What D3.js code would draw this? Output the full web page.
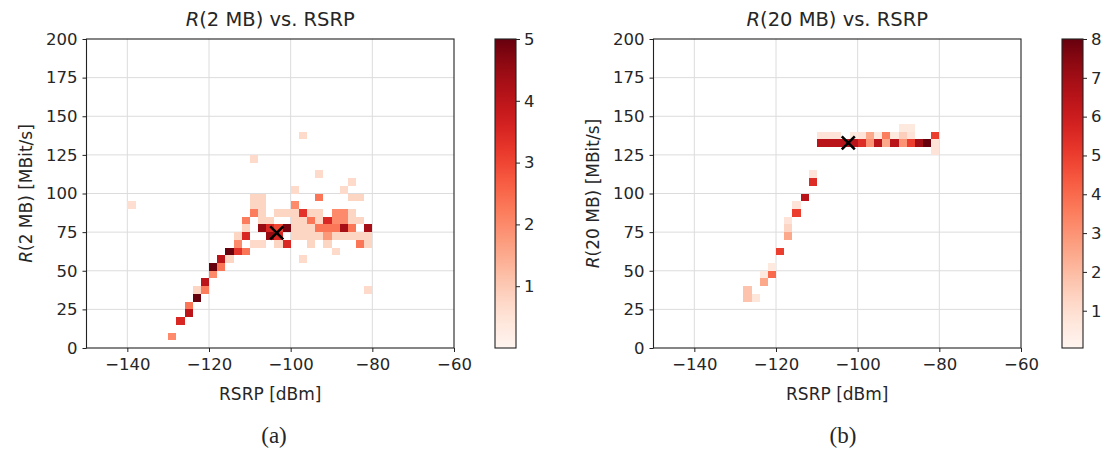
<!DOCTYPE html>
<html><head><meta charset="utf-8">
<script src="https://cdn.jsdelivr.net/npm/d3@7"></script>
<style>
body{margin:0;background:#fff;}
svg text{font-family:"DejaVu Sans",sans-serif;fill:#262626;}
</style></head>
<body><svg id="chart" width="1110" height="450"></svg>
<script>
// ---------- data (bin lower edge RSRP [dBm], bin lower edge rate [MBit/s], density) ----------
const xTicks = [-140, -120, -100, -80, -60];
const yTicks = [0, 25, 50, 75, 100, 125, 150, 175, 200];
const cbTicksA = [1, 2, 3, 4, 5];
const cbTicksB = [1, 2, 3, 4, 5, 6, 7, 8];
const cellsA = [
  [-140,90,0.6],[-130,5,2.0],[-128,15,3.5],[-126,20,4.0],[-126,25,2.3],[-124,30,5.0],[-124,35,0.8],
  [-122,35,2.2],[-122,40,4.0],[-120,45,2.0],[-120,50,5.0],[-118,50,2.3],[-118,55,4.0],[-116,55,0.8],
  [-116,60,5.0],[-114,60,3.3],[-114,65,2.0],[-114,70,0.8],[-112,60,2.3],[-112,70,3.5],[-112,75,0.8],
  [-112,80,2.2],[-110,65,0.7],[-110,85,2.2],[-110,90,0.8],[-110,95,0.8],[-110,120,0.7],[-108,65,0.7],
  [-108,75,4.5],[-108,80,0.8],[-108,85,0.8],[-108,90,0.8],[-108,95,0.8],[-106,70,4.5],[-106,75,3.5],
  [-106,80,0.8],[-104,65,0.8],[-104,70,3.5],[-104,75,3.0],[-104,85,0.8],[-102,65,3.5],[-102,75,4.8],
  [-102,85,0.8],[-100,100,0.7],[-100,90,2.0],[-100,85,0.8],[-100,80,0.8],[-100,75,0.8],[-100,70,0.8],
  [-98,135,0.7],[-98,85,3.3],[-98,80,0.8],[-98,75,0.8],[-98,70,0.8],[-98,55,0.7],[-96,85,0.8],
  [-96,80,2.3],[-96,75,0.8],[-96,70,0.8],[-96,65,0.8],[-94,110,0.7],[-94,95,2.3],[-94,85,0.8],
  [-94,80,0.8],[-94,75,2.3],[-94,70,0.8],[-92,80,3.5],[-92,75,2.3],[-92,70,1.8],[-92,65,0.8],
  [-90,85,2.0],[-90,80,2.0],[-90,75,2.3],[-90,70,0.8],[-90,60,0.7],[-88,100,0.7],[-88,85,2.0],
  [-88,80,2.0],[-88,75,4.3],[-88,70,0.8],[-86,105,0.7],[-86,95,0.8],[-86,85,0.8],[-86,80,0.8],
  [-86,75,2.3],[-86,70,0.8],[-84,95,0.8],[-84,80,0.8],[-84,70,0.8],[-84,65,2.3],[-82,75,4.3],
  [-82,70,0.8],[-82,65,0.8],[-82,35,0.7]
];
const cellsB = [
  [-128,30,1.8],[-128,35,1.8],[-126,30,0.7],[-124,40,2.5],[-124,45,0.6],[-122,45,4.0],[-122,50,0.6],
  [-120,60,5.0],[-118,70,2.5],[-118,75,1.3],[-118,80,0.8],[-116,85,5.0],[-116,90,0.8],[-114,95,6.5],
  [-112,105,5.5],[-112,110,0.8],
  [-110,130,6.5],[-108,130,6.5],[-106,130,6.5],[-104,130,6.5],[-102,130,6.5],[-100,130,5.5],
  [-98,130,3.0],[-96,130,6.5],[-94,130,2.5],[-92,130,6.5],[-90,130,3.0],[-88,130,5.0],[-86,130,7.0],
  [-84,130,8.0],[-82,125,0.8],[-82,130,0.8],[-82,135,5.0],
  [-110,135,0.8],[-108,135,0.8],[-106,135,0.8],[-102,135,0.6],[-100,135,0.8],[-98,135,2.5],
  [-96,135,0.6],[-94,135,3.5],[-92,135,0.6],[-90,135,1.5],[-88,135,0.8],[-90,140,0.6],[-88,140,0.6]
];
const medianA = [-103.4, 74.5];
const medianB = [-102.3, 132.8];
const binW = 2, binH = 5;

// ---------- drawing ----------
const svg = d3.select("#chart");
const defs = svg.append("defs");
const plotTop = 39, plotBottom = 348;

function panel(opt){
  const g = svg.append("g");
  const x = d3.scaleLinear().domain([-150, -60]).range([opt.left, opt.right]);
  const y = d3.scaleLinear().domain([0, 200]).range([plotBottom, plotTop]);
  const color = d3.scaleSequential(d3.interpolateReds).domain(opt.cdomain);
  const cx = (opt.left + opt.right) / 2;

  // grid
  g.append("g").selectAll("line").data(xTicks.slice(0, -1)).join("line")
    .attr("x1", d => x(d)).attr("x2", d => x(d)).attr("y1", plotTop).attr("y2", plotBottom)
    .attr("stroke", "#dcdcdc").attr("stroke-width", 1);
  g.append("g").selectAll("line").data(yTicks.slice(1, -1)).join("line")
    .attr("y1", d => y(d)).attr("y2", d => y(d)).attr("x1", x(-150)).attr("x2", x(-60))
    .attr("stroke", "#dcdcdc").attr("stroke-width", 1);

  // cells
  g.append("g").selectAll("rect").data(opt.cells).join("rect")
    .attr("x", d => x(d[0])).attr("width", d => x(d[0] + binW) - x(d[0]))
    .attr("y", d => y(d[1] + binH)).attr("height", d => y(d[1]) - y(d[1] + binH))
    .attr("fill", d => color(d[2])).attr("shape-rendering", "crispEdges");

  // median marker
  const mx = x(opt.median[0]), my = y(opt.median[1]), s = 6.5;
  g.append("path").attr("d", `M${mx-s},${my-s}L${mx+s},${my+s}M${mx-s},${my+s}L${mx+s},${my-s}`)
    .attr("stroke", "#000").attr("stroke-width", 2.6).attr("fill", "none");

  // axes
  const ax = g.append("g").attr("transform", `translate(0,${plotBottom})`)
    .call(d3.axisBottom(x).tickValues(xTicks).tickSize(4).tickPadding(6).tickFormat(d => d3.format("")(d).replace("-", "\u2212")));
  const ay = g.append("g").attr("transform", `translate(${x(-150)},0)`)
    .call(d3.axisLeft(y).tickValues(yTicks).tickSize(4).tickPadding(5));
  [ax, ay].forEach(a => {
    a.select(".domain").remove();
    a.selectAll("line").attr("stroke", "#222");
    a.selectAll("text").attr("font-size", 16.5).attr("fill", "#262626").style("font-family", "DejaVu Sans");
  });
  g.append("rect").attr("x", x(-150)).attr("y", plotTop).attr("width", x(-60) - x(-150)).attr("height", plotBottom - plotTop)
    .attr("fill", "none").attr("stroke", "#222").attr("stroke-width", 1.1);

  // titles
  const t = g.append("text").attr("x", cx).attr("y", 26).attr("text-anchor", "middle").attr("font-size", 19.5);
  t.append("tspan").attr("font-style", "italic").text("R");
  t.append("tspan").text(`(${opt.size}) vs. RSRP`);
  g.append("text").attr("x", cx).attr("y", 400).attr("text-anchor", "middle").attr("font-size", 17).text("RSRP [dBm]");
  const yl = g.append("text").attr("transform", `translate(${opt.left - 55},${(plotTop + plotBottom) / 2}) rotate(-90)`)
    .attr("text-anchor", "middle").attr("font-size", 17);
  yl.append("tspan").attr("font-style", "italic").text("R");
  yl.append("tspan").text(`(${opt.size}) [MBit/s]`);
  g.append("text").attr("x", opt.capX).attr("y", 443).attr("text-anchor", "middle")
    .attr("font-size", 23).style("font-family", "'Liberation Serif', 'DejaVu Serif', serif").text(opt.caption);

  // colorbar
  const cbx = opt.cbx, cbw = 21;
  const gid = "grad" + opt.caption.replace(/\W/g, "");
  const grad = defs.append("linearGradient").attr("id", gid).attr("x1", 0).attr("x2", 0).attr("y1", 1).attr("y2", 0);
  d3.range(0, 1.0001, 0.05).forEach(f => grad.append("stop").attr("offset", f)
    .attr("stop-color", d3.interpolateReds(f)));
  g.append("rect").attr("x", cbx).attr("y", plotTop).attr("width", cbw).attr("height", plotBottom - plotTop)
    .attr("fill", `url(#${gid})`).attr("stroke", "#222").attr("stroke-width", 1.1);
  const cy = d3.scaleLinear().domain(opt.cdomain).range([plotBottom, plotTop]);
  const ac = g.append("g").attr("transform", `translate(${cbx + cbw},0)`)
    .call(d3.axisRight(cy).tickValues(opt.cbTicks).tickSize(4).tickPadding(4).tickFormat(d3.format("d")));
  ac.select(".domain").remove();
  ac.selectAll("line").attr("stroke", "#222");
  ac.selectAll("text").attr("font-size", 16.5).attr("fill", "#262626").style("font-family", "DejaVu Sans");
}

panel({left: 86.5, right: 454, cbx: 495, cells: cellsA, cdomain: [0, 5], cbTicks: cbTicksA, median: medianA, size: "2 MB", caption: "(a)", capX: 274});
panel({left: 653.5, right: 1021, cbx: 1062, cells: cellsB, cdomain: [0.04, 8], cbTicks: cbTicksB, median: medianB, size: "20 MB", caption: "(b)", capX: 843});
</script></body></html>
